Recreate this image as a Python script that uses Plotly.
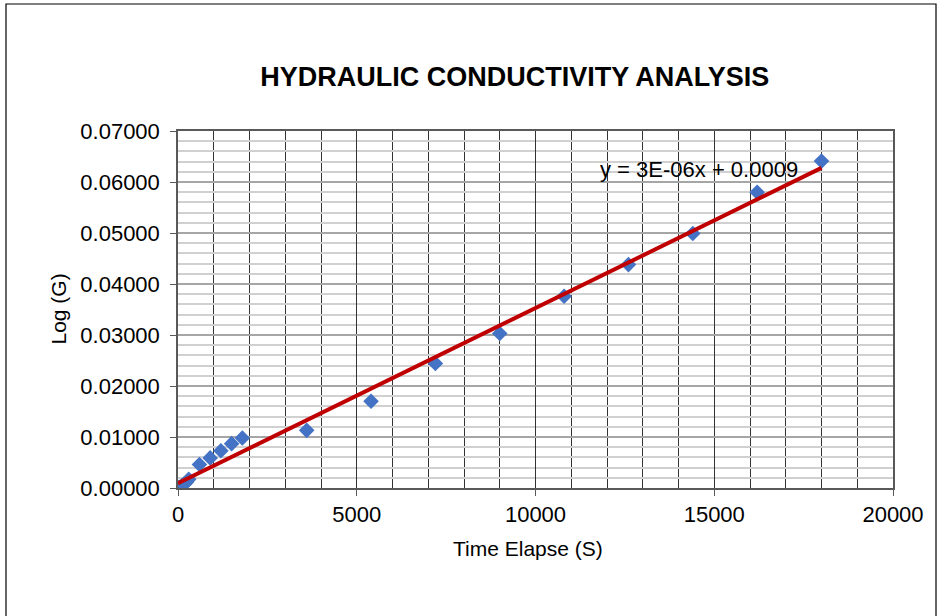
import numpy as np
import plotly.graph_objects as go

# Falling-head test readings (time in seconds, log of head ratio)
time_s = [0, 30, 60, 120, 180, 240, 300, 600, 900, 1200, 1500, 1800,
          3600, 5400, 7200, 9000, 10800, 12600, 14400, 16200, 18000]
log_g = [0.0000, 0.0001, 0.0002, 0.0005, 0.0008, 0.0012, 0.0017, 0.0046,
         0.0059, 0.0073, 0.0087, 0.0098, 0.0113, 0.0170, 0.0244, 0.0303,
         0.0376, 0.0438, 0.0499, 0.0580, 0.0641]

# Linear trendline through the readings
slope, intercept = np.polyfit(time_s, log_g, 1)
trend_x = [min(time_s), max(time_s)]
trend_y = [slope * x + intercept for x in trend_x]
eq_label = f"y = {slope:.0E}x + {intercept:.4f}"

FONT = "Liberation Sans, Arial, sans-serif"

fig = go.Figure()
fig.add_trace(go.Scatter(
    x=time_s, y=log_g, mode="markers",
    marker=dict(symbol="diamond", size=12, color="#4472C4",
                line=dict(width=0)),
    showlegend=False,
))
fig.add_trace(go.Scatter(
    x=trend_x, y=trend_y, mode="lines",
    line=dict(color="#C00000", width=4),
    showlegend=False,
))

fig.update_layout(
    width=940, height=616,
    margin=dict(l=178, r=47, t=131, b=128),
    paper_bgcolor="white", plot_bgcolor="white",
    font=dict(family=FONT, color="black", size=21),
    title=dict(text="<b>HYDRAULIC CONDUCTIVITY ANALYSIS</b>",
               x=0.471, xref="paper", xanchor="center",
               y=1 - 77 / 616, yref="container", yanchor="middle",
               font=dict(family=FONT, size=27, color="black")),
    xaxis=dict(
        range=[0, 20000], dtick=5000, tickformat="d",
        showline=True, linecolor="#595959", linewidth=1.5, mirror=True,
        ticks="outside", ticklen=6, tickcolor="#595959",
        showgrid=True, gridcolor="#333333", gridwidth=1,
        minor=dict(dtick=1000, showgrid=True, gridcolor="#333333",
                   gridwidth=1, ticks=""),
        zeroline=False,
        tickfont=dict(size=22),
    ),
    yaxis=dict(
        range=[0, 0.07], dtick=0.01, tickformat=".5f",
        showline=True, linecolor="#595959", linewidth=1.5, mirror=True,
        ticks="outside", ticklen=6, tickcolor="#595959",
        showgrid=True, gridcolor="#A6A6A6", gridwidth=1.5,
        minor=dict(dtick=0.002, showgrid=True, gridcolor="#D0D0D0",
                   gridwidth=1.5, ticks=""),
        zeroline=False, ticklabelstandoff=6,
        tickfont=dict(size=22),
    ),
    annotations=[
        dict(text=eq_label, x=11750, y=0.0624, xref="x", yref="y",
             xanchor="left", yanchor="middle", showarrow=False,
             font=dict(size=22, color="black")),
        dict(text="Time Elapse (S)", x=(528 - 178) / 715,
             y=(488 - 548) / 357, xref="paper", yref="paper",
             xanchor="center", yanchor="middle", showarrow=False,
             font=dict(size=21)),
        dict(text="Log (G)", x=(58 - 178) / 715, y=0.5,
             xref="paper", yref="paper", textangle=-90,
             xanchor="center", yanchor="middle", showarrow=False,
             font=dict(size=21)),
    ],
    shapes=[
        dict(type="rect", xref="paper", yref="paper",
             x0=(6 - 178) / 715, x1=(936 - 178) / 715,
             y0=(488 - 640) / 357, y1=(488 - 4) / 357,
             line=dict(color="black", width=1.2), fillcolor="rgba(0,0,0,0)",
             layer="below"),
    ],
)

fig.write_html("out.html")
